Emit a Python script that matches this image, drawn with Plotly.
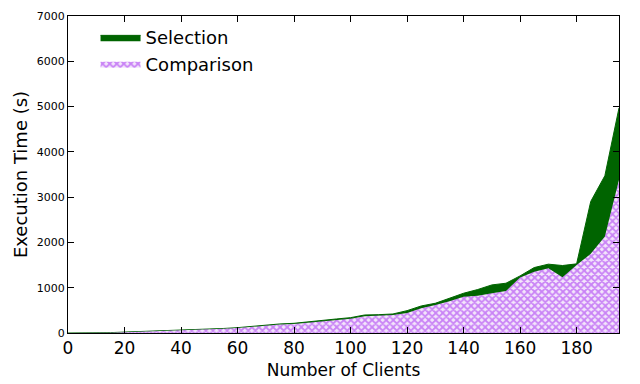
import plotly.graph_objects as go

# numero de clientes
clients = list(range(0, 200, 5))

# tempos (s)
selection = [0, 0, 2, 8, 20, 30, 40, 50, 60, 70,
             85, 100, 118, 150, 180, 200, 214, 250, 290, 310,
             339, 398, 405, 420, 494, 597, 657, 760, 878, 960,
             1062, 1099, 1261, 1445, 1520, 1490, 1527, 2905, 3473, 4970]
comparison = [0, 0, 1, 6, 17, 26, 35, 45, 55, 65,
              78, 92, 108, 135, 165, 185, 200, 230, 265, 290,
              315, 370, 380, 400, 440, 546, 619, 700, 803, 820,
              878, 929, 1223, 1350, 1430, 1232, 1504, 1748, 2131, 3385]

x_ticks = list(range(0, 200, 20))
y_ticks = list(range(0, 8000, 1000))

fig = go.Figure()

# Selection (verde)
fig.add_trace(go.Scatter(x=clients, y=selection, mode='lines', name='Selection',
                         fill='tozeroy', fillcolor='#006400',
                         line=dict(color='#006400', width=1)))

# Comparison (hachurado roxo)
fig.add_trace(go.Scatter(x=clients, y=comparison, mode='lines', name='Comparison',
                         fill='tozeroy', fillcolor='white',
                         fillpattern=dict(shape='x', fgcolor='#a020f0', bgcolor='#f3e6fb',
                                          size=5, solidity=0.6),
                         line=dict(color='#a020f0', width=0)))

# a pagina tem margem de 8px no body, compensar nas margens
font = 'DejaVu Sans'
fig.update_layout(width=640, height=384,
                  margin=dict(l=60, r=29, t=8, b=59, autoexpand=False),
                  plot_bgcolor='white', paper_bgcolor='white',
                  font=dict(family=font, color='black', size=16),
                  legend=dict(x=0.05, y=0.99, xanchor='left', yanchor='top',
                              bgcolor='rgba(0,0,0,0)', font=dict(size=18),
                              itemwidth=40, tracegroupgap=0),
                  showlegend=True)

fig.update_xaxes(range=[0, 195], tickvals=x_ticks, showgrid=False, zeroline=False,
                 showline=True, linecolor='black', linewidth=1, mirror='ticks',
                 ticks='inside', ticklen=6, tickcolor='black', automargin=False,
                 tickfont=dict(size=17),
                 title=dict(text='Number of Clients', font=dict(size=17), standoff=6))
fig.update_yaxes(range=[0, 7000], tickvals=y_ticks, showgrid=False, zeroline=False,
                 showline=True, linecolor='black', linewidth=1, mirror='ticks',
                 ticks='inside', ticklen=6, tickcolor='black', automargin=False,
                 tickfont=dict(size=11),
                 title=dict(text='Execution Time (s)', font=dict(size=18), standoff=4))

fig.write_html("out.html")
